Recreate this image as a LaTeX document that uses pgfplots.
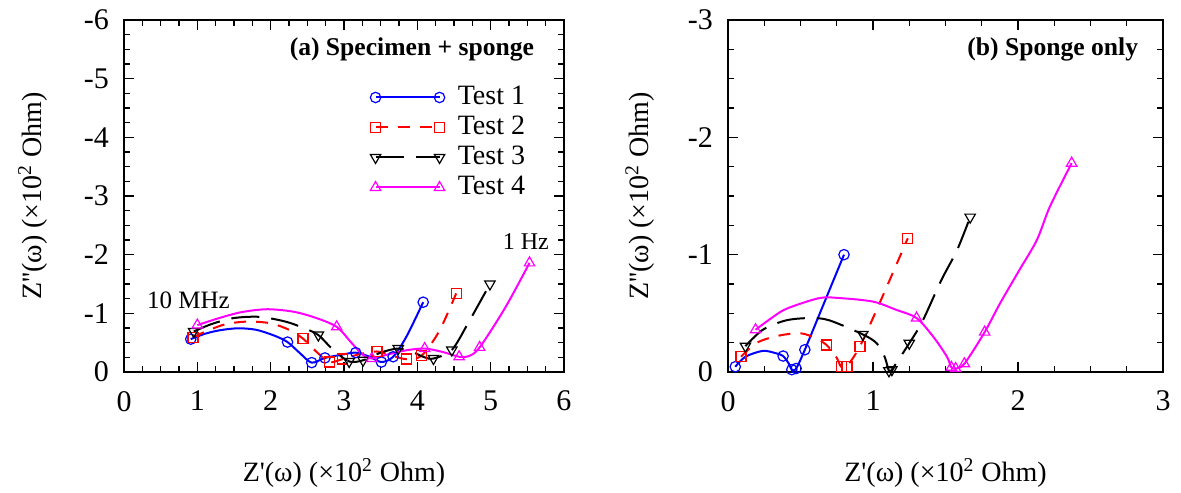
\documentclass[border=0pt]{standalone}
\usepackage{fontspec}
\setmainfont{Liberation Serif}
\usepackage{pgfplots}
\usepackage{pgfplotstable}
\pgfplotsset{compat=1.18}
\definecolor{tmag}{RGB}{255,0,255}
\definecolor{tblue}{RGB}{0,0,255}
\definecolor{tred}{RGB}{255,0,0}

% panel (a): specimen + sponge, x and y in 10^2 Ohm, m=1 where a marker is drawn
\pgfplotstableread{
x y m
0.91 -0.56 1
1.10 -0.65 0
1.30 -0.71 0
1.55 -0.745 0
1.80 -0.72 0
2.05 -0.62 0
2.23 -0.51 1
2.40 -0.32 0
2.56 -0.16 1
2.74 -0.24 1
2.95 -0.29 0
3.16 -0.33 1
3.35 -0.26 0
3.51 -0.17 1
3.67 -0.26 1
3.85 -0.60 0
4.08 -1.19 1
}\aone
\pgfplotstableread{
x y m
0.94 -0.59 1
1.15 -0.71 0
1.40 -0.82 0
1.70 -0.86 0
2.00 -0.83 0
2.25 -0.72 0
2.44 -0.57 1
2.62 -0.35 0
2.80 -0.17 1
2.98 -0.22 1
3.20 -0.30 0
3.45 -0.35 1
3.65 -0.28 0
3.85 -0.22 1
4.06 -0.28 1
4.30 -0.70 0
4.53 -1.34 1
}\atwo
\pgfplotstableread{
x y m
0.95 -0.69 1
1.20 -0.82 0
1.50 -0.92 0
1.85 -0.94 0
2.20 -0.86 0
2.45 -0.75 0
2.65 -0.63 1
2.85 -0.38 0
3.07 -0.18 1
3.26 -0.20 1
3.50 -0.33 0
3.74 -0.40 1
3.95 -0.33 0
4.10 -0.25 0
4.22 -0.23 1
4.47 -0.375 1
4.70 -0.85 0
4.99 -1.50 1
}\athree
\pgfplotstableread{
x y m
1.00 -0.80 1
1.30 -0.92 0
1.60 -1.02 0
1.95 -1.07 0
2.30 -1.03 0
2.60 -0.93 0
2.90 -0.77 1
3.10 -0.50 0
3.25 -0.30 0
3.38 -0.23 1
3.60 -0.30 0
3.85 -0.37 0
4.10 -0.40 1
4.35 -0.34 0
4.57 -0.26 1
4.70 -0.27 0
4.85 -0.42 1
5.20 -1.10 0
5.53 -1.86 1
}\afour

% panel (b): sponge only
\pgfplotstableread{
x y m
0.05 -0.045 1
0.12 -0.13 0
0.24 -0.18 0
0.33 -0.16 0
0.38 -0.136 1
0.42 -0.07 0
0.44 -0.02 1
0.47 -0.03 1
0.53 -0.19 1
0.65 -0.55 0
0.80 -1.00 1
}\bone
\pgfplotstableread{
x y m
0.09 -0.13 1
0.20 -0.25 0
0.35 -0.31 0
0.50 -0.33 0
0.60 -0.29 0
0.68 -0.23 1
0.75 -0.12 0
0.78 -0.045 1
0.82 -0.05 1
0.91 -0.22 1
1.05 -0.60 0
1.24 -1.14 1
}\btwo
\pgfplotstableread{
x y m
0.12 -0.22 1
0.24 -0.36 0
0.40 -0.44 0
0.57 -0.46 0
0.70 -0.44 0
0.93 -0.32 1
1.025 -0.245 0
1.08 -0.13 0
1.11 -0.01 1
1.13 -0.02 1
1.25 -0.245 1
1.34 -0.43 0
1.47 -0.78 0
1.58 -1.04 0
1.67 -1.32 1
}\bthree
\pgfplotstableread{
x y m
0.19 -0.36 1
0.30 -0.46 0
0.405 -0.54 0
0.63 -0.63 0
0.77 -0.63 0
1.00 -0.60 0
1.16 -0.53 0
1.30 -0.46 1
1.416 -0.30 0
1.51 -0.13 0
1.54 -0.04 1
1.57 -0.03 1
1.63 -0.07 1
1.77 -0.34 1
1.876 -0.585 0
2.01 -0.87 0
2.13 -1.125 0
2.22 -1.41 0
2.37 -1.78 1
}\bfour

\pgfplotsset{
  % rows with m=0 are pushed out of the domain, so only marked rows remain
  markrows/.style={restrict x to domain=-1:10},
  t1/.style={tblue, line width=1pt, mark=o, mark size=2.6pt, mark options={solid, line width=0.6pt}},
  t2/.style={tred, line width=1pt, dash pattern=on 6pt off 5pt, mark=square, mark size=2.5pt, mark options={solid, line width=0.6pt}},
  t3/.style={black, line width=1pt, dash pattern=on 14pt off 6pt, mark=triangle, mark size=3pt, mark options={solid, rotate=180, line width=0.6pt}},
  t4/.style={tmag, line width=1pt, mark=triangle, mark size=3pt, mark options={solid, line width=0.6pt}},
  panel/.style={
    scale only axis, y dir=reverse,
    minor x tick num=3, minor y tick num=3,
    tick align=inside, major tick length=5pt, minor tick length=3pt,
    axis line style={line width=0.9pt},
    every tick/.style={black, line width=0.6pt},
    tick label style={font=\fontsize{15}{18}\selectfont},
    xticklabel style={yshift=-6pt},
    yticklabel style={xshift=-4pt},
    label style={font=\fontsize{14}{17}\selectfont},
    xlabel={Z\textquotesingle(ω) (×10\textsuperscript{2} Ohm)},
    ylabel={Z\textquotesingle\textquotesingle(ω) (×10\textsuperscript{2} Ohm)},
    xlabel style={at={(axis description cs:0.5,-0.287)},anchor=center},
  },
  legend image code/.code={\draw[#1] plot coordinates {(0pt,0pt) (32pt,0pt)};},
}

\begin{document}
\begin{tikzpicture}
\path[use as bounding box] (0,0) rectangle (590.5pt,246pt);

\begin{axis}[panel,
  at={(62pt,60pt)}, anchor=south west, width=220pt, height=176pt,
  xmin=0, xmax=6, ymin=-6, ymax=0,
  xtick={0,1,2,3,4,5,6}, xticklabels={0,1,2,3,4,5,6},
  ytick={-6,-5,-4,-3,-2,-1,0}, yticklabels={-6,-5,-4,-3,-2,-1,0},
  ylabel style={at={(axis description cs:-0.207,0.5)},anchor=center},
  legend style={at={(rel axis cs:0.559,0.818)}, anchor=north west, draw=none, fill=none,
    inner sep=0pt, font=\fontsize{14}{16}\selectfont, row sep=2pt, column sep=6pt,
    nodes={inner sep=0.5pt, text height=9.5pt, text depth=2.5pt}},
  legend cell align=left,
]
\addplot[t1, smooth, mark=none, forget plot] table[x=x,y=y] {\aone};
\addplot[t1, only marks, markrows, forget plot] table[x expr={\thisrow{x}+100*(1-\thisrow{m})},y=y] {\aone};
\addplot[t2, smooth, mark=none, forget plot] table[x=x,y=y] {\atwo};
\addplot[t2, only marks, markrows, forget plot] table[x expr={\thisrow{x}+100*(1-\thisrow{m})},y=y] {\atwo};
\addplot[t3, smooth, mark=none, forget plot] table[x=x,y=y] {\athree};
\addplot[t3, only marks, markrows, forget plot] table[x expr={\thisrow{x}+100*(1-\thisrow{m})},y=y] {\athree};
\addplot[t4, smooth, mark=none, forget plot] table[x=x,y=y] {\afour};
\addplot[t4, only marks, markrows, forget plot] table[x expr={\thisrow{x}+100*(1-\thisrow{m})},y=y] {\afour};
\addlegendimage{t1}\addlegendentry{Test 1}
\addlegendimage{t2}\addlegendentry{Test 2}
\addlegendimage{t3}\addlegendentry{Test 3}
\addlegendimage{t4}\addlegendentry{Test 4}
\node[anchor=east, font=\bfseries\fontsize{12.8}{15}\selectfont] at (rel axis cs:0.948,0.915) {(a) Specimen + sponge};
\node[anchor=west, font=\fontsize{12.5}{14}\selectfont] at (axis cs:0.22,-1.23) {10 MHz};
\node[font=\fontsize{12}{14}\selectfont] at (axis cs:5.48,-2.23) {1 Hz};
\end{axis}

\begin{axis}[panel,
  at={(364pt,60pt)}, anchor=south west, width=217.5pt, height=176pt,
  xmin=0, xmax=3, ymin=-3, ymax=0,
  xtick={0,1,2,3}, xticklabels={0,1,2,3},
  ytick={-3,-2,-1,0}, yticklabels={-3,-2,-1,0},
  ylabel style={at={(axis description cs:-0.202,0.5)},anchor=center},
]
\addplot[t1, smooth, mark=none] table[x=x,y=y] {\bone};
\addplot[t1, only marks, markrows] table[x expr={\thisrow{x}+100*(1-\thisrow{m})},y=y] {\bone};
\addplot[t2, smooth, mark=none] table[x=x,y=y] {\btwo};
\addplot[t2, only marks, markrows] table[x expr={\thisrow{x}+100*(1-\thisrow{m})},y=y] {\btwo};
\addplot[t3, smooth, mark=none] table[x=x,y=y] {\bthree};
\addplot[t3, only marks, markrows] table[x expr={\thisrow{x}+100*(1-\thisrow{m})},y=y] {\bthree};
\addplot[t4, smooth, mark=none] table[x=x,y=y] {\bfour};
\addplot[t4, only marks, markrows] table[x expr={\thisrow{x}+100*(1-\thisrow{m})},y=y] {\bfour};
\node[anchor=east, font=\bfseries\fontsize{12.8}{15}\selectfont] at (rel axis cs:0.959,0.915) {(b) Sponge only};
\end{axis}
\end{tikzpicture}
\end{document}
